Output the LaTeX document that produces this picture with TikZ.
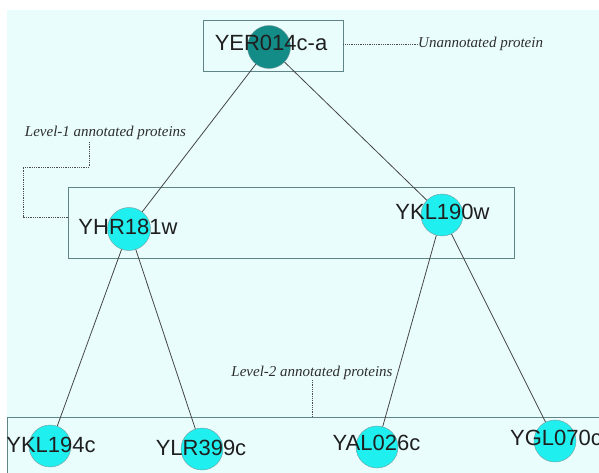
\documentclass[tikz,border=0pt]{standalone}
\usepackage{fontspec}
\setmainfont{Liberation Sans}
\newfontfamily\notefont{Liberation Serif}
\usepackage{tikz}

\definecolor{bgcyan}{HTML}{EAFDFD}
\definecolor{boxgray}{HTML}{5F8586}
\definecolor{ringgray}{HTML}{7A9A9A}
\definecolor{protcyan}{HTML}{1FEFEF}
\definecolor{protteal}{HTML}{138C88}
\definecolor{edgegray}{HTML}{454545}

\tikzset{
  levelbox/.style={draw=boxgray, line width=0.9pt, rectangle, inner sep=0pt},
  protein/.style={circle, draw=ringgray, fill=protcyan, minimum size=43pt, inner sep=0pt},
  gene/.style={anchor=base, inner sep=0pt, text=black!88, font=\fontsize{22}{26}\selectfont},
  note/.style={inner sep=0pt, text=black!82, font=\notefont\itshape\fontsize{15}{18}\selectfont},
  edge/.style={draw=edgegray, line width=0.8pt},
  noteline/.style={draw=black!70, densely dotted, line width=0.8pt}
}

\begin{document}
\begin{tikzpicture}[x=1pt,y=-1pt]
\useasboundingbox (0,0) rectangle (599,473);
\fill[bgcyan] (7,10) rectangle (599,473);

% level boxes
\node (topbox) [levelbox, minimum width=140pt, minimum height=51pt] at (273,45.5) {};
\node (midbox) [levelbox, minimum width=446pt, minimum height=71pt] at (291,222.5) {};
\node (botbox) [levelbox, minimum width=603pt, minimum height=63pt] at (308.5,448.5) {};

% proteins
\node (yer) [protein, fill=protteal] at (269,47) {};
\node (yhr) [protein] at (129,229) {};
\node (ykl) [protein, minimum size=42pt] at (442,215) {};
\foreach \nm/\cx/\cy in {ykla/50/446, ylr/202/449, yal/377/447, ygl/555/441} {
    \node (\nm) [protein, minimum size=42pt] at (\cx,\cy) {};
}

% interactions
\draw[edge] (yer) -- (yhr);
\draw[edge] (yer) -- (ykl);
\draw[edge] (yhr) -- (ykla);
\draw[edge] (yhr) -- (ylr);
\draw[edge] (ykl) -- (yal);
\draw[edge] (ykl) -- (ygl);

% names
\node (yer-t) [gene] at (271,51) {YER014c-a};
\node (yhr-t) [gene] at (128,234) {YHR181w};
\node (ykl-t) [gene] at (442.5,219) {YKL190w};
\foreach \nm/\tx/\ty/\txt in {ykla/51/452/YKL194c, ylr/201/455/YLR399c, yal/376.5/450/YAL026c, ygl/556/445/YGL070c} {
    \node (\nm-t) [gene] at (\tx,\ty) {\txt};
}

% notes
\node (unann) [note, anchor=west] at (418,44) {Unannotated protein};
\node (lvl1) [note] at (105.5,133) {Level-1 annotated proteins};
\node (lvl2) [note] at (312,373) {Level-2 annotated proteins};
\coordinate (l1a) at (89,142);
\coordinate (l1b) at (68,217);

\draw[noteline] (topbox.east |- unann.west) -- (unann.west);
\draw[noteline] (l1a) -- (89,167) -- (23,167) -- (23,217) -- (l1b);
\draw[noteline] (lvl2.south) -- (botbox.north -| lvl2.south);
\end{tikzpicture}
\end{document}
